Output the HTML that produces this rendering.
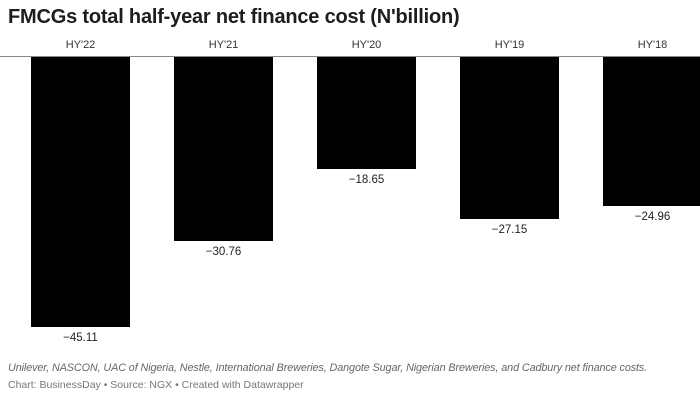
<!DOCTYPE html>
<html><head><style>
body{margin:0;width:700px;height:400px;background:#fff;font-family:"Liberation Sans",sans-serif;position:relative;overflow:hidden}
.t{position:absolute;left:8px;top:6px;font-size:20px;font-weight:bold;color:#1d1d1d;letter-spacing:-0.2px}
.ax{position:absolute;left:0;top:56px;width:700px;height:1px;background:#888}
.b{position:absolute;top:57px;background:#000;width:99px}
.c{position:absolute;top:39px;width:99px;text-align:center;font-size:11px;color:#333}
.v{position:absolute;width:99px;text-align:center;font-size:11.5px;color:#222}
.n{position:absolute;left:8px;top:362px;font-size:10.8px;font-style:italic;color:#666;white-space:nowrap;letter-spacing:-0.1px}
.s{position:absolute;left:8px;top:379px;font-size:10.5px;color:#777;white-space:nowrap}
</style></head><body>
<div class="t">FMCGs total half-year net finance cost (N'billion)</div>
<div class="ax"></div>
<div class="c" style="left:31px">HY'22</div>
<div class="c" style="left:174px">HY'21</div>
<div class="c" style="left:317px">HY'20</div>
<div class="c" style="left:460px">HY'19</div>
<div class="c" style="left:603px">HY'18</div>
<div class="b" style="left:31px;height:270px"></div>
<div class="b" style="left:174px;height:184px"></div>
<div class="b" style="left:317px;height:112px"></div>
<div class="b" style="left:460px;height:162px"></div>
<div class="b" style="left:603px;height:149px"></div>
<div class="v" style="left:31px;top:332px">−45.11</div>
<div class="v" style="left:174px;top:246px">−30.76</div>
<div class="v" style="left:317px;top:174px">−18.65</div>
<div class="v" style="left:460px;top:224px">−27.15</div>
<div class="v" style="left:603px;top:211px">−24.96</div>
<div class="n">Unilever, NASCON, UAC of Nigeria, Nestle, International Breweries, Dangote Sugar, Nigerian Breweries, and Cadbury net finance costs.</div>
<div class="s">Chart: BusinessDay • Source: NGX • Created with Datawrapper</div>
</body></html>
